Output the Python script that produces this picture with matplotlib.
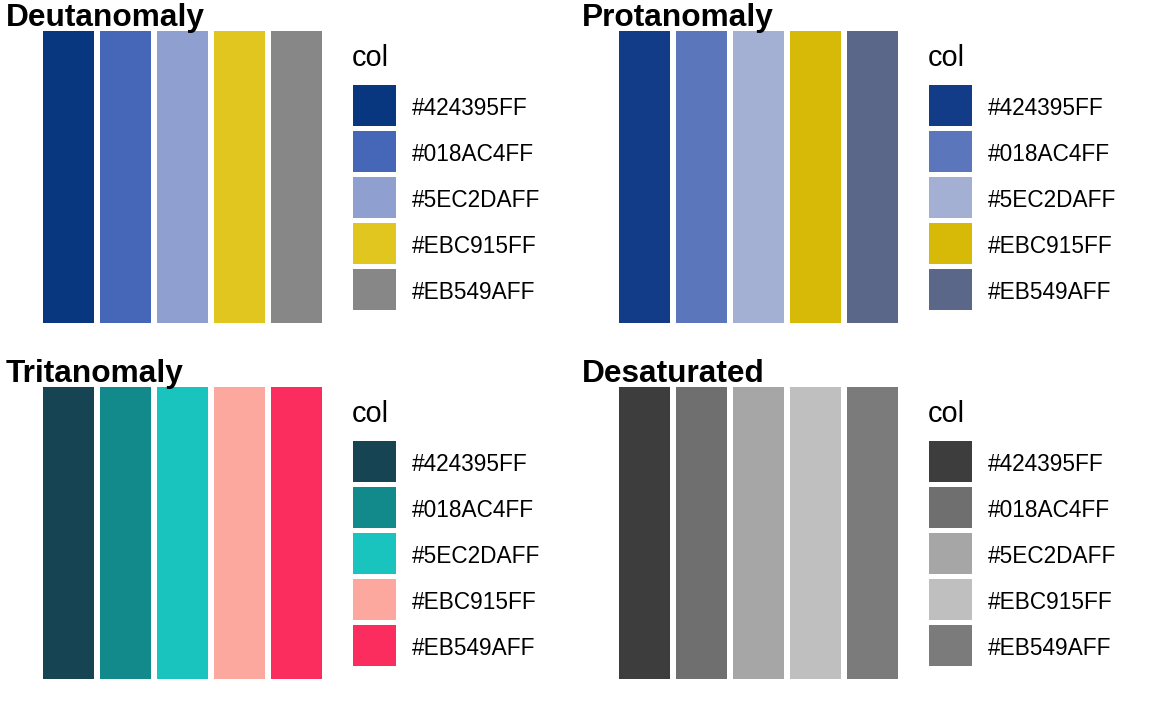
import matplotlib
matplotlib.use("Agg")
import matplotlib.pyplot as plt
from matplotlib.patches import Patch

plt.rcParams['font.family'] = ['Liberation Sans', 'DejaVu Sans']

# ---- data ----
categories = ["#424395FF", "#018AC4FF", "#5EC2DAFF", "#EBC915FF", "#EB549AFF"]
values = [1, 1, 1, 1, 1]
panel_titles = ["Deutanomaly", "Protanomaly", "Tritanomaly", "Desaturated"]
deutan_cols = ["#083780", "#4666B8", "#8FA0D0", "#E2C620", "#878787"]
protan_cols = ["#123C87", "#5C76BC", "#A3B0D4", "#D7B908", "#5A6789"]
tritan_cols = ["#164452", "#128A8C", "#19C3BE", "#FCA89E", "#FB2D5E"]
desat_cols = ["#3D3D3D", "#6F6F6F", "#A6A6A6", "#BFBFBF", "#7B7B7B"]
panel_cols = [deutan_cols, protan_cols, tritan_cols, desat_cols]

W, H = 1152, 711
fig = plt.figure(figsize=(W / 100, H / 100), dpi=100)

def fx(px):
    return px / W

def fy(py):
    return 1 - py / H

leg_fs_pt = 16.3
leg_fs_px = leg_fs_pt * 100 / 72
key_w, key_h, key_gap = 43, 41, 5
hh = (key_h / leg_fs_px - 0.245) / 0.65

for i, (title, cols) in enumerate(zip(panel_titles, panel_cols)):
    ox = 576 * (i % 2)
    oy = 356 * (i // 2)
    ax = fig.add_axes([fx(43 + ox), fy(323 + oy), 279 / W, 292 / H])
    x = list(range(len(categories)))
    ax.bar(x, values, width=0.9, color=cols, edgecolor='none')
    ax.set_xlim(-0.45, len(categories) - 0.55)
    ax.set_ylim(0, 1)
    ax.axis('off')

    fig.text(fx(6 + ox), fy(26 + oy), title, fontsize=22.8, fontweight='bold',
             ha='left', va='baseline')
    fig.text(fx(352 + ox), fy(66 + oy), "col", fontsize=20.8,
             ha='left', va='baseline')

    handles = [Patch(facecolor=c, edgecolor='none') for c in cols]
    leg = ax.legend(handles, categories, loc='upper left',
                    bbox_to_anchor=(fx(353 + ox), fy(85 + oy)),
                    bbox_transform=fig.transFigure, frameon=False,
                    borderpad=0, borderaxespad=0, fontsize=leg_fs_pt,
                    handlelength=key_w / leg_fs_px, handleheight=hh,
                    labelspacing=key_gap / leg_fs_px,
                    handletextpad=16 / leg_fs_px)
    for t in leg.get_texts():
        t.set_y(-3)

fig.savefig("out.png", dpi=100, facecolor='white')
